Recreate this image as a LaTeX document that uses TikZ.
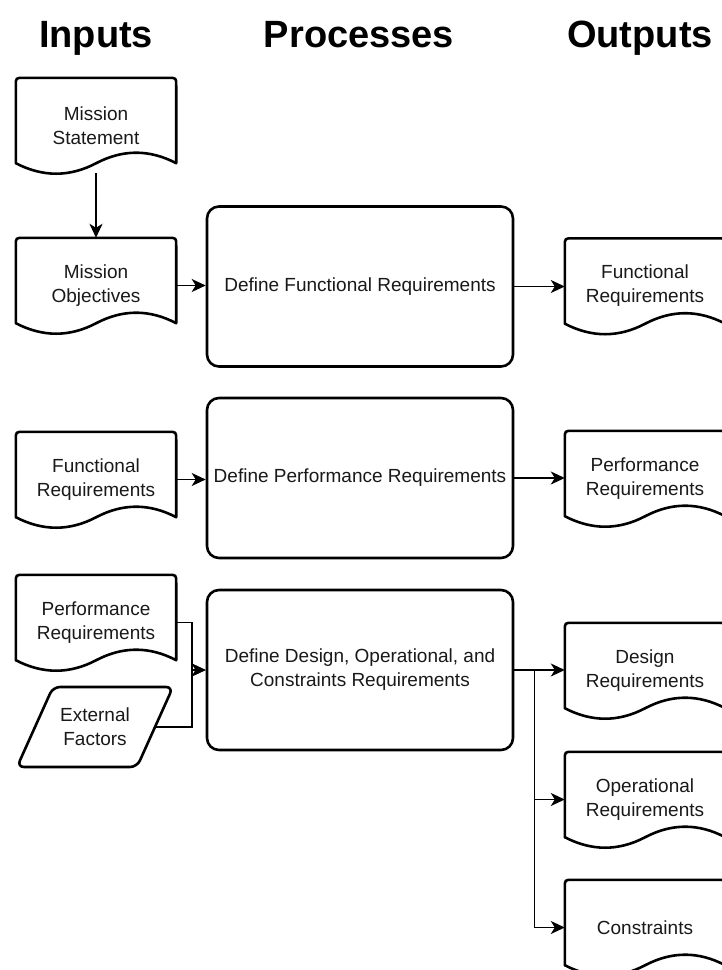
\documentclass[tikz,border=0pt]{standalone}
\usepackage{fontspec}
\setmainfont{Liberation Sans}
\usetikzlibrary{calc,arrows.meta}

\newcommand{\docoutline}[1]{%
  \draw[shp] ($(#1.south west)+(0,-10)$) -- ($(#1.north west)+(0,8)$)
    .. controls (#1.north west) .. ($(#1.north west)+(8,0)$)
    -- ($(#1.north east)+(-8,0)$)
    .. controls (#1.north east) .. ($(#1.north east)+(0,8)$)
    -- ($(#1.south east)+(0,-10)$)
    .. controls ($(#1.south east)+(-26.67,-24)$) and ($(#1.south east)+(-53.33,-24)$) .. ($(#1.south east)+(-80,-10)$)
    .. controls ($(#1.south east)+(-106.67,4)$) and ($(#1.south east)+(-133.33,4)$) .. ($(#1.south west)+(0,-10)$) -- cycle;}

\begin{document}
\begin{tikzpicture}[x=1pt,y=-1pt,
  lbl/.style={font=\fontsize{19}{24}\selectfont, text=black!90, align=center},
  docnode/.style={lbl, minimum width=160pt, minimum height=95pt, inner sep=0pt},
  procbox/.style={lbl, draw, line width=2.6pt, rounded corners=12pt, minimum width=306pt, minimum height=160pt, inner sep=0pt},
  shp/.style={line width=2.6pt, line join=round},
  conn/.style={line width=1.6pt, -{Stealth[length=14pt,width=13pt,inset=4pt]}},
  title/.style={font=\fontsize{38}{44}\selectfont\bfseries, anchor=base}
]
\fill[white] (0,0) rectangle (722,970);
\useasboundingbox (0,0) rectangle (722,970);
\clip (0,0) rectangle (722,970);

% titles
\node[title] (tin) at (96,47) {Inputs};
\node[title] (tpr) at (359,47) {Processes};
\node[title] (tout) at (640,47) {Outputs};

% inputs
\node[docnode] (ms) at (96,125.5) {Mission\\Statement};
\node[docnode] (mo) at (96,285.5) {Mission\\Objectives};
\node[docnode] (lf) at (96,479.5) {Functional\\Requirements};
\node[docnode] (pr) at (96,622.5) {Performance\\Requirements};
\node[lbl, inner sep=0pt] (ef) at (95,727) {External\\Factors};
\foreach \n in {ms,mo,lf,pr} {\docoutline{\n}}
\draw[shp, rounded corners=7pt] ($(ef)+(-42,-40)$) -- ($(ef)+(78,-40)$) -- ($(ef)+(42,40)$) -- ($(ef)+(-78,40)$) -- cycle;

% processes
\node[procbox] (p1) at (360,286.5) {Define Functional Requirements};
\node[procbox] (p2) at (360,478) {Define Performance Requirements};
\node[procbox] (p3) at (360,670) {Define Design, Operational, and\\Constraints Requirements};

% outputs
\node[docnode] (fo) at (645,286) {Functional\\Requirements};
\node[docnode] (po) at (645,478.5) {Performance\\Requirements};
\node[docnode] (dr) at (645,670.5) {Design\\Requirements};
\node[docnode] (or) at (645,799.5) {Operational\\Requirements};
\node[docnode] (cs) at (645,927.5) {Constraints};
\foreach \n in {fo,po,dr,or,cs} {\docoutline{\n}}

% connectors
\draw[conn] (ms.south) -- (mo.north);
\draw[conn] (mo.east) -- (mo.east -| p1.west);
\draw[conn] (p1.east) -- (p1.east -| fo.west);
\draw[conn] (lf.east) -- (lf.east -| p2.west);
\draw[conn] (p2.east) -- (p2.east -| po.west);
\coordinate (j) at ($(pr.east)+(16,0)$);
\coordinate (efr) at ($(ef)+(60,0)$);
\draw[conn] (pr.east) -- (j) |- (p3.west);
\draw[conn] (efr) -- (efr -| j) |- (p3.west);
\draw[conn] (p3.east) -- (p3.east -| dr.west);
\coordinate (k) at ($(p3.east)+(20,0)$);
\draw[conn] (k) |- (or.west);
\draw[conn] (k) |- (cs.west);
\end{tikzpicture}
\end{document}
